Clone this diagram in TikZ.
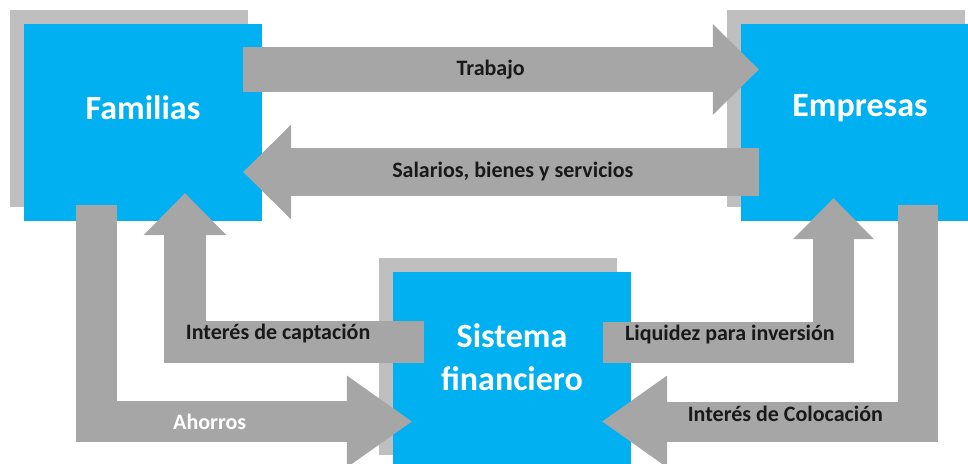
\documentclass[tikz,border=0pt]{standalone}
\usepackage{fontspec}
\setmainfont{Carlito}
\usetikzlibrary{arrows.meta,shadows}
\definecolor{boxblue}{HTML}{00B0F0}
\definecolor{flowgray}{HTML}{A6A6A6}
\definecolor{shadegray}{HTML}{BFBFBF}

\begin{document}
\begin{tikzpicture}[x=1pt, y=-1pt,
    box/.style = {fill=boxblue, minimum width=238pt, minimum height=197pt, inner sep=0pt,
      general shadow={fill=shadegray, shadow xshift=-14pt, shadow yshift=14pt}},
    boxtext/.style = {text=white, font=\bfseries\fontsize{34}{43}\selectfont, align=center},
    flow/.style = {draw=flowgray, line join=miter},
    lbl/.style = {font=\bfseries\fontsize{22}{24}\selectfont, text=black!90}]
  \useasboundingbox (0,0) rectangle (968,463);
  \clip (0,0) rectangle (968,463);

  \node[box] (fam) at (143,122.5) {};
  \node[box] (emp) at (860,122.5) {};
  \node[box] (sis) at (512,370.5) {};

  \draw[flow, line width=45pt, -{Triangle[length=46pt,width=91pt,line width=0pt]}] ([xshift=-19pt,yshift=53pt]fam.east) -- ([xshift=18pt,yshift=53pt]emp.west) node[lbl, pos=.48] {Trabajo};
  \draw[flow, line width=48pt, -{Triangle[length=48pt,width=95pt,line width=0pt]}] ([xshift=18pt,yshift=-49.5pt]emp.west) -- ([xshift=-19pt,yshift=-49.5pt]fam.east) node[lbl, pos=.477] {Salarios, bienes y servicios};
  \draw[flow, line width=42pt, -{Triangle[length=42pt,width=83pt,line width=0pt]}] ([xshift=31pt,yshift=28.5pt]sis.west) -| ([xshift=42pt,yshift=28pt]fam.south) node[lbl, pos=.305, yshift=8pt] {Interés de captación};
  \draw[flow, line width=41pt, -{Triangle[length=65pt,width=92pt,line width=0pt]}] ([xshift=-47pt,yshift=16pt]fam.south) |- ([xshift=19pt,yshift=-51pt]sis.west) node[lbl, text=white, pos=.68] {Ahorros};
  \draw[flow, line width=41pt, -{Triangle[length=41pt,width=81pt,line width=0pt]}] ([xshift=-28pt,yshift=28pt]sis.east) -| ([xshift=-26.5pt,yshift=23pt]emp.south) node[lbl, pos=.275, yshift=8pt] {Liquidez para inversión};
  \draw[flow, line width=40pt, -{Triangle[length=65pt,width=92pt,line width=0pt]}] ([xshift=58pt,yshift=16pt]emp.south) |- ([xshift=-29pt,yshift=-51pt]sis.east) node[lbl, pos=.71, yshift=8pt] {Interés de Colocación};

  \node[boxtext] (famtxt) at ([yshift=14.5pt]fam.center) {Familias};
  \node[boxtext] (emptxt) at ([yshift=14.5pt]emp.center) {Empresas};
  \node[boxtext] (sistxt) at ([yshift=13.5pt]sis.center) {Sistema\\financiero};
\end{tikzpicture}
\end{document}
